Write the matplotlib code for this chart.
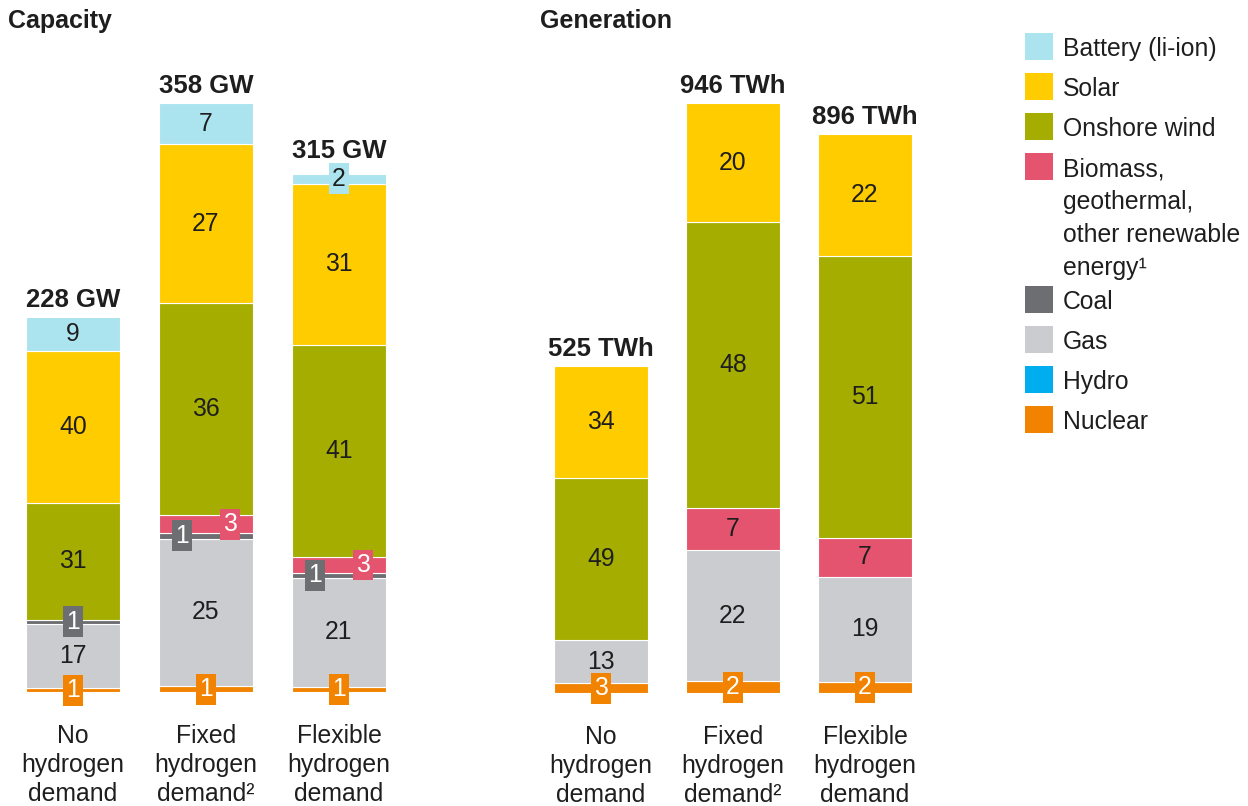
import numpy as np
import matplotlib.pyplot as plt
from matplotlib.patches import Rectangle

plt.rcParams['font.family'] = ['Liberation Sans', 'DejaVu Sans']

# data (shares in % of each bar, totals on top)
scenarios = ["No\nhydrogen\ndemand", "Fixed\nhydrogen\ndemand²", "Flexible\nhydrogen\ndemand"]
techs = ["Nuclear", "Hydro", "Gas", "Coal", "Biomass", "Onshore wind", "Solar", "Battery"]

cap_total = [228, 358, 315]
cap_nuclear = [1, 1, 1]
cap_hydro = [0, 0, 0]
cap_gas = [17, 25, 21]
cap_coal = [1, 1, 1]
cap_biomass = [0, 3, 3]
cap_wind = [31, 36, 41]
cap_solar = [40, 27, 31]
cap_battery = [9, 7, 2]

gen_total = [525, 946, 896]
gen_nuclear = [3, 2, 2]
gen_hydro = [0, 0, 0]
gen_gas = [13, 22, 19]
gen_coal = [0, 0, 0]
gen_biomass = [0, 7, 7]
gen_wind = [49, 48, 51]
gen_solar = [34, 20, 22]
gen_battery = [0, 0, 0]

colors = {
    "Battery": "#abe4ee",
    "Solar": "#ffcc00",
    "Onshore wind": "#a4ad00",
    "Biomass": "#e5546e",
    "Coal": "#6d6e71",
    "Gas": "#cbcccf",
    "Hydro": "#00aeef",
    "Nuclear": "#f28300",
}
legend_labels = [
    ("Battery", "Battery (li-ion)"),
    ("Solar", "Solar"),
    ("Onshore wind", "Onshore wind"),
    ("Biomass", "Biomass,\ngeothermal,\nother renewable\nenergy¹"),
    ("Coal", "Coal"),
    ("Gas", "Gas"),
    ("Hydro", "Hydro"),
    ("Nuclear", "Nuclear"),
]

TXT = "#1e1e1e"
FS = 17.8
FSB = 18.5
W, H = 1248, 806

fig = plt.figure(figsize=(W / 100, H / 100), dpi=100)


def draw_panel(ax, totals, shares, unit):
    x = np.arange(len(totals))
    totals = np.array(totals, dtype=float)
    sums = np.sum([shares[t] for t in techs], axis=0)
    bottoms = np.zeros(len(x))
    top_small = np.zeros(len(x), dtype=bool)
    width = 0.707
    for t in techs:
        vals = np.array(shares[t], dtype=float)
        h = vals / sums * totals
        m = vals > 0
        ax.bar(x[m], h[m], width, bottom=bottoms[m], color=colors[t],
               edgecolor="white", linewidth=0.8)
        for i in x[m]:
            yc = bottoms[i] + h[i] / 2
            top_small[i] = vals[i] < 5
            if vals[i] >= 5:
                ax.text(i, yc, f"{vals[i]:.0f}", ha="center", va="center",
                        fontsize=FS, color=TXT)
            else:
                # small shares get a coloured tag; coal/biomass side by side
                dx = 0
                if t == "Coal" and shares["Biomass"][i] > 0:
                    dx = -0.18
                if t == "Biomass" and shares["Coal"][i] > 0:
                    dx = 0.18
                tc = TXT if t == "Battery" else "white"
                ax.text(i + dx, yc, f"{vals[i]:.0f}", ha="center", va="center",
                        fontsize=FS, color=tc, zorder=5,
                        bbox=dict(boxstyle="square,pad=0.14", fc=colors[t], ec="none"))
        bottoms += h
    for i in x:
        off = 11 if top_small[i] else 7
        ax.annotate(f"{totals[i]:.0f} {unit}", (i, totals[i]), xytext=(0, off),
                    textcoords="offset points", ha="center", va="baseline",
                    fontsize=FSB, fontweight="bold", color=TXT)
    ax.set_xlim(-0.5, len(x) - 0.5)
    ax.set_ylim(0, totals.max())
    ax.set_xticks(x, scenarios, fontsize=FS, color=TXT, linespacing=1.27)
    ax.tick_params(axis="x", length=0, pad=23)
    ax.set_yticks([])
    for s in ax.spines.values():
        s.set_visible(False)


ax_cap = fig.add_axes([6.5 / W, (H - 692) / H, 399 / W, 589 / H])
draw_panel(ax_cap, cap_total, {
    "Nuclear": cap_nuclear, "Hydro": cap_hydro, "Gas": cap_gas, "Coal": cap_coal,
    "Biomass": cap_biomass, "Onshore wind": cap_wind, "Solar": cap_solar,
    "Battery": cap_battery}, "GW")

ax_gen = fig.add_axes([535 / W, (H - 693) / H, 396 / W, 590 / H])
draw_panel(ax_gen, gen_total, {
    "Nuclear": gen_nuclear, "Hydro": gen_hydro, "Gas": gen_gas, "Coal": gen_coal,
    "Biomass": gen_biomass, "Onshore wind": gen_wind, "Solar": gen_solar,
    "Battery": gen_battery}, "TWh")

fig.text(8 / W, 1 - 21 / H, "Capacity", fontsize=18, fontweight="bold",
         color=TXT, ha="left", va="center")
fig.text(540 / W, 1 - 21 / H, "Generation", fontsize=18, fontweight="bold",
         color=TXT, ha="left", va="center")

# legend
y = 33
for key, lab in legend_labels:
    fig.add_artist(Rectangle((1025 / W, 1 - (y + 27) / H), 28 / W, 27 / H,
                             transform=fig.transFigure, fc=colors[key], ec="none"))
    fig.text(1063 / W, 1 - (y + 4) / H, lab, fontsize=FS, color=TXT,
             ha="left", va="top", linespacing=1.47)
    y += 40 + 31 * lab.count("\n")

fig.savefig("out.png", dpi=100)
